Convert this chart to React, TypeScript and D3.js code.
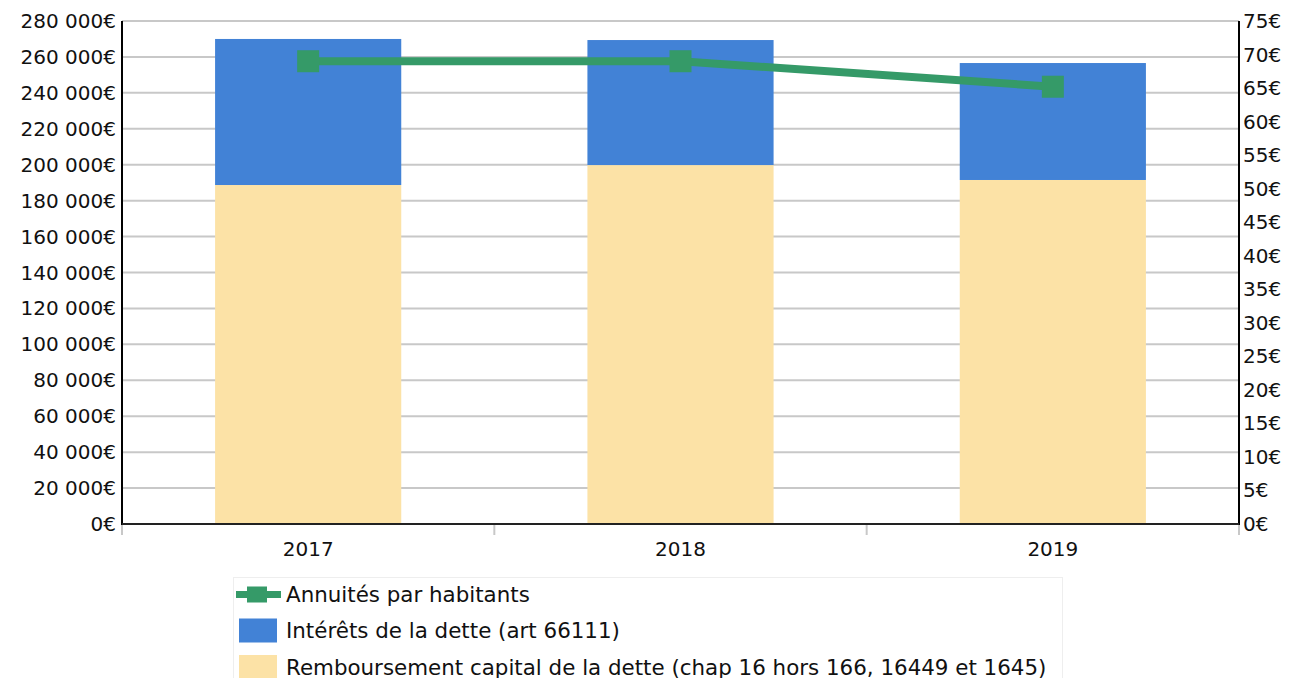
import React, { useEffect, useRef } from 'react';
import * as d3 from 'd3';

const years = ['2017', '2018', '2019'];
const capital = [188700, 199800, 191500];
const interets = [81300, 69600, 65100];
const annuites = [69.0, 69.0, 65.2];
const leftTicks = d3.range(0, 280001, 20000);
const rightTicks = d3.range(0, 76, 5);
const legendLabels = [
    'Annuités par habitants',
    'Intérêts de la dette (art 66111)',
    'Remboursement capital de la dette (chap 16 hors 166, 16449 et 1645)',
];

const COLORS = { capital: '#fce2a6', interets: '#4282d6', line: '#359a68' };

function fmt(v: number) {
    return d3.format(',')(v).replace(/,/g, ' ') + '€';
}

function App() {
    const ref = useRef<SVGSVGElement | null>(null);

    useEffect(() => {
        const svg = d3.select(ref.current);
        svg.selectAll('*').remove();

        const left = 122, right = 1239, top = 21, bottom = 524;
        const font = 'DejaVu Sans, sans-serif';
        const tickSize = 20;
        const legendSize = 21.4;

        const x = d3.scaleBand().domain(years).range([left, right]).paddingInner(0).paddingOuter(0);
        const y = d3.scaleLinear().domain([0, 280000]).range([bottom, top]);
        const y2 = d3.scaleLinear().domain([0, 75]).range([bottom, top]);
        const bw = x.bandwidth() * 0.5;

        // gridlines
        svg.append('g')
            .selectAll('line')
            .data(leftTicks)
            .enter()
            .append('line')
            .attr('x1', left)
            .attr('x2', right)
            .attr('y1', d => y(d))
            .attr('y2', d => y(d))
            .attr('stroke', '#c8c8c8')
            .attr('stroke-width', 2);

        // stacked bars
        const stack = d3.stack<any>().keys(['capital', 'interets'])(
            years.map((yr, i) => ({ year: yr, capital: capital[i], interets: interets[i] }))
        );
        svg.append('g')
            .selectAll('g')
            .data(stack)
            .enter()
            .append('g')
            .attr('fill', d => (COLORS as any)[d.key])
            .selectAll('rect')
            .data(d => d)
            .enter()
            .append('rect')
            .attr('x', d => (x(d.data.year) as number) + (x.bandwidth() - bw) / 2)
            .attr('y', d => y(d[1]))
            .attr('width', bw)
            .attr('height', d => y(d[0]) - y(d[1]));

        // category ticks
        const boundaries = [left, ...years.map(yr => (x(yr) as number) + x.bandwidth())];
        svg.append('g')
            .selectAll('line')
            .data(boundaries)
            .enter()
            .append('line')
            .attr('x1', d => d)
            .attr('x2', d => d)
            .attr('y1', bottom)
            .attr('y2', bottom + 11)
            .attr('stroke', '#c8c8c8')
            .attr('stroke-width', 2);

        // axes lines
        svg.append('line').attr('x1', left).attr('x2', left).attr('y1', top).attr('y2', bottom + 1).attr('stroke', '#000').attr('stroke-width', 2);
        svg.append('line').attr('x1', right).attr('x2', right).attr('y1', top).attr('y2', bottom + 1).attr('stroke', '#000').attr('stroke-width', 2);
        svg.append('line').attr('x1', left).attr('x2', right).attr('y1', bottom).attr('y2', bottom).attr('stroke', '#222').attr('stroke-width', 2);

        // left labels
        svg.append('g')
            .selectAll('text')
            .data(leftTicks)
            .enter()
            .append('text')
            .attr('x', left - 6)
            .attr('y', d => y(d))
            .attr('dy', '0.35em')
            .attr('text-anchor', 'end')
            .attr('font-family', font)
            .attr('font-size', tickSize)
            .attr('fill', '#111')
            .text(d => fmt(d));

        // right labels
        svg.append('g')
            .selectAll('text')
            .data(rightTicks)
            .enter()
            .append('text')
            .attr('x', right + 4)
            .attr('y', d => y2(d))
            .attr('dy', '0.35em')
            .attr('font-family', font)
            .attr('font-size', tickSize)
            .attr('fill', '#111')
            .text(d => d + '€');

        // x labels
        svg.append('g')
            .selectAll('text')
            .data(years)
            .enter()
            .append('text')
            .attr('x', d => (x(d) as number) + x.bandwidth() / 2)
            .attr('y', bottom + 32)
            .attr('text-anchor', 'middle')
            .attr('font-family', font)
            .attr('font-size', tickSize)
            .attr('fill', '#111')
            .text(d => d);

        // line series
        const line = d3.line<number>()
            .x((_, i) => (x(years[i]) as number) + x.bandwidth() / 2)
            .y(d => y2(d));
        svg.append('path')
            .datum(annuites)
            .attr('d', line)
            .attr('fill', 'none')
            .attr('stroke', COLORS.line)
            .attr('stroke-width', 8);
        svg.append('g')
            .selectAll('rect')
            .data(annuites)
            .enter()
            .append('rect')
            .attr('x', (_, i) => (x(years[i]) as number) + x.bandwidth() / 2 - 11)
            .attr('y', d => y2(d) - 11)
            .attr('width', 22)
            .attr('height', 22)
            .attr('fill', COLORS.line);

        // legend (the last row runs off the bottom edge, as in the source)
        const lg = svg.append('g');
        lg.append('rect')
            .attr('x', 233.5)
            .attr('y', 577.5)
            .attr('width', 829)
            .attr('height', 120)
            .attr('fill', '#fff')
            .attr('stroke', '#eeeeee');
        const rowY = [594.5, 631, 667.5];
        lg.append('line').attr('x1', 236).attr('x2', 281).attr('y1', rowY[0]).attr('y2', rowY[0]).attr('stroke', COLORS.line).attr('stroke-width', 7);
        lg.append('rect').attr('x', 247).attr('y', rowY[0] - 8).attr('width', 20).attr('height', 16).attr('fill', COLORS.line);
        lg.append('rect').attr('x', 239).attr('y', 618.5).attr('width', 38).attr('height', 24).attr('fill', COLORS.interets);
        lg.append('rect').attr('x', 239).attr('y', 655).attr('width', 38).attr('height', 24).attr('fill', COLORS.capital);
        lg.selectAll('text')
            .data(legendLabels)
            .enter()
            .append('text')
            .attr('x', 286)
            .attr('y', (_, i) => rowY[i])
            .attr('dy', '0.35em')
            .attr('font-family', font)
            .attr('font-size', legendSize)
            .attr('fill', '#111')
            .text(d => d);
    }, []);

    return (
        <svg
            ref={ref}
            width={1289}
            height={678}
            style={{ position: 'absolute', left: 0, top: 0, background: '#fff' }}
        />
    );
}

export default App;
